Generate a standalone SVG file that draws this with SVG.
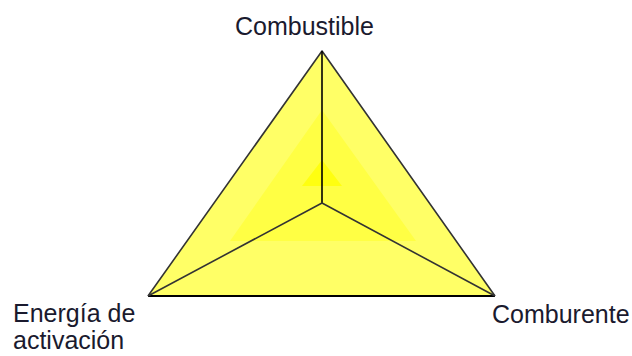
<svg xmlns="http://www.w3.org/2000/svg" width="632" height="356" viewBox="0 0 632 356">
<style>
.lbl{font-family:"Liberation Sans",Arial,sans-serif;font-size:25px;fill:#1a1a2e}
.edge{fill:none;stroke:#333;stroke-width:1.6;stroke-linejoin:round}
</style>
<rect width="632" height="356" fill="#fff"/>
<g id="triangle">
<polygon points="322,51 148,296 495,296" fill="#ffff66"/>
<polygon points="322,110 230,241 416,241" fill="#ffff44"/>
<polygon points="322,160 302,186 342,186" fill="#ffff10"/>
</g>
<g id="connectors">
<polyline class="edge" points="148,296 322,51 495,296"/>
<line x1="148" y1="296" x2="495" y2="296" stroke="#000" stroke-width="2.2"/>
<line x1="322" y1="51" x2="322" y2="203" stroke="#000" stroke-width="1.6"/>
<polyline class="edge" points="148,296 322,203 495,296"/>
</g>
<g id="combustible"><text class="lbl" x="235" y="35">Combustible</text></g>
<g id="comburente"><text class="lbl" x="492" y="323">Comburente</text></g>
<g id="energia"><text class="lbl" x="13" y="322">Energía de</text><text class="lbl" x="13" y="349">activación</text></g>
</svg>
